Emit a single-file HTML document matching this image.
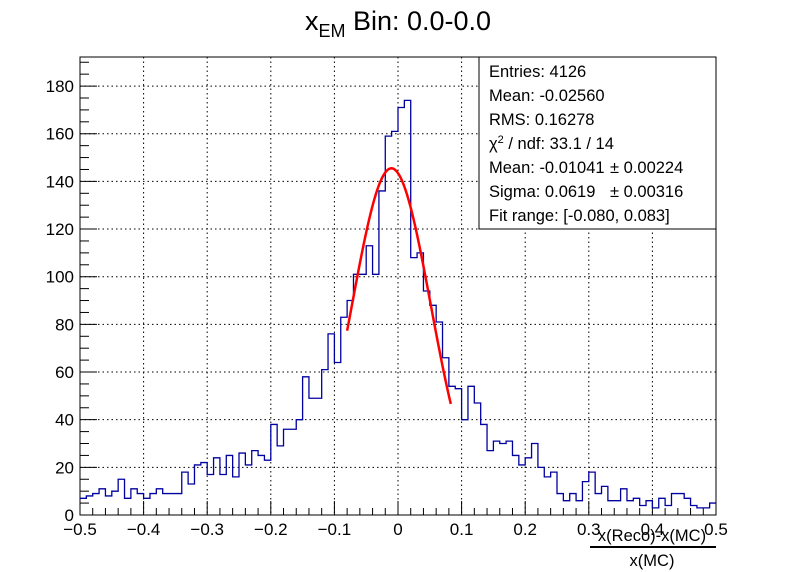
<!DOCTYPE html>
<html><head><meta charset="utf-8"><style>
body{margin:0;background:#fff}
svg{display:block;font-family:"Liberation Sans",sans-serif}
</style></head><body>
<svg id="c" width="796" height="572">
<rect width="796" height="572" fill="#fff"/>
<text x="398" y="30" text-anchor="middle" font-size="27">x<tspan font-size="18" dy="7">EM</tspan><tspan dy="-7"> Bin: 0.0-0.0</tspan></text>
<g id="grid"></g><g id="axes"></g><g id="marks"></g>
<g font-size="16.5">
<rect x="479" y="57" width="237" height="172" fill="#fff" stroke="#000" stroke-width="1"/>
<text x="489" y="77">Entries: 4126</text>
<text x="489" y="101">Mean: -0.02560</text>
<text x="489" y="125">RMS: 0.16278</text>
<text x="489" y="149">χ<tspan font-size="11" dy="-6">2</tspan><tspan dy="6"> / ndf: 33.1 / 14</tspan></text>
<text x="489" y="173">Mean: -0.01041 </text><text x="610" y="173">± 0.00224</text>
<text x="489" y="197">Sigma: 0.0619 </text><text x="610" y="197">± 0.00316</text>
<text x="489" y="221">Fit range: [-0.080, 0.083]</text>
</g>
<g font-size="16.5">
<text x="652" y="541" text-anchor="middle">x(Reco)-x(MC)</text>
<line x1="590" y1="547" x2="716" y2="547" stroke="#000" stroke-width="2"/>
<text x="652" y="566" text-anchor="middle">x(MC)</text>
</g>
</svg>
<script>
const counts=[7,8,9,11,8,10,15,7,11,9,7,9,11,9,9,9,18,13,21,22,17,24,17,25,16,26,21,27,25,23,38,29,36,36,40,58,49,49,61,76,64,83,90,101,101,113,101,136,159,161,171,174,108,110,94,88,81,66,54,53,40,54,47,38,27,31,30,31,25,21,24,30,20,16,18,9,6,9,6,14,18,9,12,6,6,11,6,7,4,6,3,7,4,9,9,7,4,3,3,5];
const xRange=[-0.5,0.5];
const yRange=[0,192.2];
const xTicks=[-0.5,-0.4,-0.3,-0.2,-0.1,0,0.1,0.2,0.3,0.4,0.5];
const yTicks=[0,20,40,60,80,100,120,140,160,180];
const fitPars=[145.5,-0.01041,0.0619];
const fitRange=[-0.080,0.083];
const L=80,R=716,T=57,B=515;
const X=v=>L+(v-xRange[0])/(xRange[1]-xRange[0])*(R-L);
const Y=v=>B-(v-yRange[0])/(yRange[1]-yRange[0])*(B-T);
const NS="http://www.w3.org/2000/svg";
function mk(tag,attrs,parent){const e=document.createElementNS(NS,tag);for(const k in attrs)e.setAttribute(k,attrs[k]);parent.appendChild(e);return e;}
const grid=document.getElementById('grid'),axes=document.getElementById('axes'),marks=document.getElementById('marks');
xTicks.forEach(t=>{if(t>xRange[0]&&t<xRange[1]){const l=mk('line',{x1:X(t),x2:X(t),y1:T,y2:B,stroke:'#000','stroke-dasharray':'1.5,3'},grid);

}});
yTicks.forEach(t=>{if(t>0){const l=mk('line',{x1:L,x2:R,y1:Y(t),y2:Y(t),stroke:'#000','stroke-dasharray':'1.5,3'},grid);

}});
const fr=mk('rect',{x:L,y:T,width:R-L,height:B-T,fill:'none',stroke:'#000','stroke-width':1},axes);


for(let v=-0.5;v<=0.5001;v+=0.02){const major=Math.abs(v*10-Math.round(v*10))<1e-6;mk('line',{x1:X(v),x2:X(v),y1:B,y2:B-(major?14:7),stroke:'#000'},axes);}
for(let v=0;v<=190;v+=5){const major=v%20===0;mk('line',{x1:L,x2:L+(major?17:9),y1:Y(v),y2:Y(v),stroke:'#000'},axes);}
xTicks.forEach(t=>{const s=t===0?'0':(t<0?'\u2212':'')+Math.abs(t).toFixed(1);const tx=mk('text',{x:X(t),y:B+20,'text-anchor':'middle','font-size':17},axes);tx.textContent=s;

});
yTicks.forEach(t=>{const tx=mk('text',{x:L-6,y:Y(t)+6,'text-anchor':'end','font-size':17},axes);tx.textContent=String(t);

});
const n=counts.length,w=(xRange[1]-xRange[0])/n;
let d='M'+X(xRange[0])+','+Y(counts[0]);
counts.forEach((c,i)=>{d+=' H'+X(xRange[0]+(i+1)*w);if(i<n-1)d+=' V'+Y(counts[i+1]);});
const hp=mk('path',{d:d,fill:'none',stroke:'#0000a0','stroke-width':1.3},marks);


let fd='';for(let i=0;i<=100;i++){const x=fitRange[0]+(fitRange[1]-fitRange[0])*i/100;const y=fitPars[0]*Math.exp(-0.5*Math.pow((x-fitPars[1])/fitPars[2],2));fd+=(i?'L':'M')+X(x).toFixed(2)+','+Y(y).toFixed(2);}
const fp=mk('path',{d:fd,fill:'none',stroke:'#f00','stroke-width':2.5},marks);


</script>
</body></html>
